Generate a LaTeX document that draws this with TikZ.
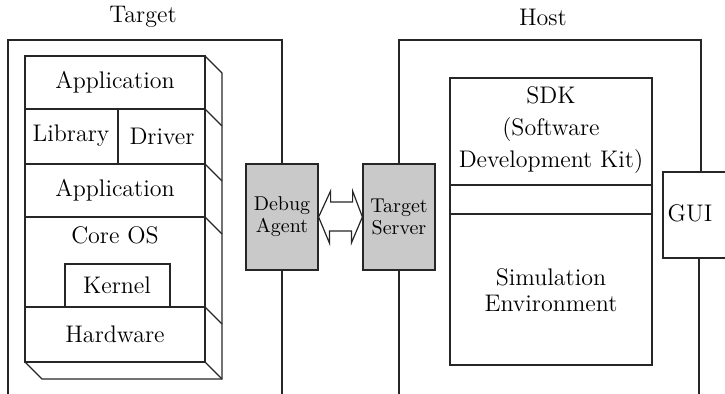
\documentclass[tikz,border=0pt]{standalone}
\usetikzlibrary{calc}
\begin{document}
\begin{tikzpicture}[x=0.5pt,y=-0.5pt,
  ln/.style={line width=0.6pt, black!85},
  lbl/.style={font=\fontsize{12}{16}\selectfont, inner sep=0pt, align=center},
  gbox/.style={draw=black!85, line width=0.6pt, fill=gray!42, minimum width=36pt, minimum height=53pt, inner sep=0pt, align=center, font=\fontsize{10}{11}\selectfont},
]
\useasboundingbox (0,0) rectangle (725,394);
\clip (0,0) rectangle (725,394);

% titles
\node[lbl] (ttarget) at (143,17) {Target};
\node[lbl] (thost) at (543,17) {Host};

% gray agent / server boxes
\node[gbox] (dbg) at (282,217) {Debug\\Agent};
\node[gbox] (srv) at (399,217) {Target\\Server};

% target frame
\coordinate (dbgend) at (282,394);
\coordinate (tl) at (8,40);
\coordinate (tbl) at (8,394);
\draw[ln] (dbg.north) |- (tl) -- (tbl);
\draw[ln] (dbg.south) -- (dbgend);

% host frame
\coordinate (srvend) at (399,394);
\coordinate (htr) at (701,40);
\draw[ln] (srv.north) |- (htr) -- (701,172);
\draw[ln] (srv.south) -- (srvend);

% GUI
\node[lbl] (gui) at (690,213) {GUI};
\draw[ln] (725,172) -- (663,172) -- (663,258) -- (725,258);
\coordinate (guiend) at (699,394);
\draw[ln] (699,258) -- (guiend);

% double arrow
\draw[ln, fill=white] (dbg.east) -- ++(12,-26) -- ++(0,11) -- ++(22,0) -- ++(0,-11)
  -- (srv.west) -- ++(-11,26) -- ++(0,-12) -- ++(-22,0) -- ++(0,12) -- cycle;

% target stack (3D box)
\draw[ln] (25,56) rectangle (205,362);
\foreach \y in {109,164,217,307} \draw[ln] (25,\y) -- (205,\y);
\draw[ln] (118,109) -- (118,164);
\draw[ln] (65,307) -- (65,264) -- (170,264) -- (170,307);
\draw[ln] (205,56) -- (222,73) -- (222,379) -- (42,379) -- (25,362);
\foreach \y in {109,164,217,307,362} \draw[ln] (205,\y) -- (222,\y+17);

\node[lbl] (app1) at (115,82) {Application};
\node[lbl] (lib) at (71,136) {Library};
\node[lbl] (drv) at (162,136) {Driver};
\node[lbl] (app2) at (115,190) {Application};
\node[lbl] (core) at (115,235) {Core OS};
\node[lbl] (kern) at (117,285) {Kernel};
\node[lbl] (hw) at (115,334) {Hardware};

% SDK box
\draw[ln] (450,78) rectangle (652,365);
\draw[ln] (450,185) -- (652,185);
\draw[ln] (450,214) -- (652,214);
\node[lbl] (sdk) at (551,130) {SDK\\(Software\\Development Kit)};
\node[lbl, font=\fontsize{12}{13}\selectfont] (sim) at (551,290) {Simulation\\Environment};
\end{tikzpicture}
\end{document}
